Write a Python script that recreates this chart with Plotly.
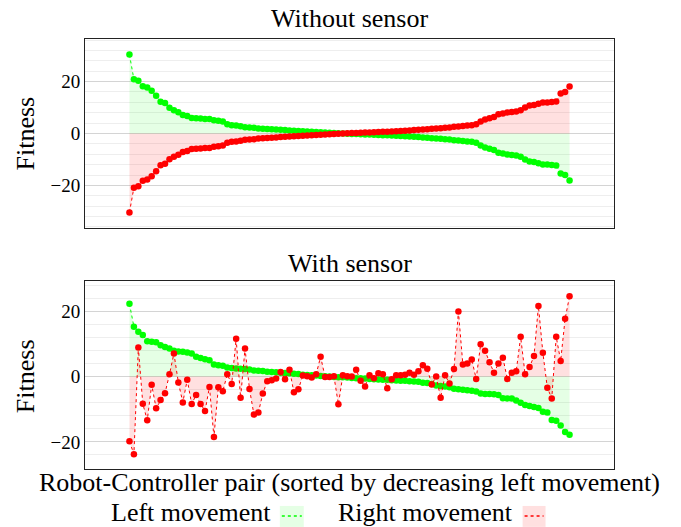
import plotly.graph_objects as go

# ---------------- data ----------------
pair_index = list(range(100))

without_left = [30.4, 20.9, 20.3, 18.2, 17.7, 16.5, 14.5, 12.2, 11.7, 9.9,
                9.0, 8.2, 7.1, 6.7, 6.0, 5.9, 5.8, 5.6, 5.6, 5.1,
                4.9, 4.6, 3.6, 3.2, 3.1, 2.8, 2.4, 2.3, 2.2, 1.9,
                1.8, 1.7, 1.6, 1.5, 1.4, 1.3, 1.2, 1.1, 1.0, 0.9,
                0.8, 0.7, 0.6, 0.5, 0.4, 0.3, 0.2, 0.1, 0.0, -0.1,
                -0.2, -0.2, -0.3, -0.4, -0.4, -0.5, -0.6, -0.7, -0.7, -0.8,
                -0.9, -1.0, -1.1, -1.2, -1.3, -1.4, -1.5, -1.6, -1.8, -1.9,
                -2.0, -2.2, -2.3, -2.6, -2.7, -2.9, -3.1, -3.2, -3.6, -4.6,
                -5.4, -5.9, -6.4, -7.4, -7.7, -8.1, -8.3, -8.5, -9.0, -10.0,
                -10.8, -11.0, -11.5, -11.9, -11.9, -12.1, -12.3, -15.4, -16.0, -18.1]

without_right = [-30.4, -20.9, -20.3, -18.2, -17.7, -16.5, -14.5, -12.2, -11.7, -9.9,
                 -9.0, -8.2, -7.1, -6.7, -6.0, -5.9, -5.8, -5.6, -5.6, -5.1,
                 -4.9, -4.6, -3.6, -3.2, -3.1, -2.8, -2.4, -2.3, -2.2, -1.9,
                 -1.8, -1.7, -1.6, -1.5, -1.4, -1.3, -1.2, -1.1, -1.0, -0.9,
                 -0.8, -0.7, -0.6, -0.5, -0.4, -0.3, -0.2, -0.1, 0.0, 0.1,
                 0.2, 0.2, 0.3, 0.4, 0.4, 0.5, 0.6, 0.7, 0.7, 0.8,
                 0.9, 1.0, 1.1, 1.2, 1.3, 1.4, 1.5, 1.6, 1.8, 1.9,
                 2.0, 2.2, 2.3, 2.6, 2.7, 2.9, 3.1, 3.2, 3.6, 4.6,
                 5.4, 5.9, 6.4, 7.4, 7.7, 8.1, 8.3, 8.5, 9.0, 10.0,
                 10.8, 11.0, 11.5, 11.9, 11.9, 12.1, 12.3, 15.4, 16.0, 18.1]

with_left = [22.3, 15.3, 13.7, 12.7, 10.8, 10.7, 10.5, 9.6, 9.1, 8.6,
             7.9, 7.7, 7.6, 7.4, 7.1, 6.1, 5.7, 5.3, 5.0, 3.7,
             3.5, 3.3, 2.8, 2.6, 2.5, 2.4, 2.3, 2.2, 1.9, 1.8,
             1.7, 1.5, 1.4, 1.3, 1.2, 1.1, 1.0, 0.9, 0.8, 0.6,
             0.5, 0.4, 0.3, 0.2, 0.1, 0.0, -0.1, -0.2, -0.2, -0.3,
             -0.4, -0.5, -0.5, -0.6, -0.7, -0.8, -0.9, -1.0, -1.0, -1.1,
             -1.2, -1.3, -1.3, -1.4, -1.5, -1.6, -1.9, -2.0, -2.3, -2.7,
             -2.9, -3.0, -3.3, -3.7, -3.9, -4.0, -4.2, -4.3, -4.6, -5.2,
             -5.3, -5.3, -5.4, -5.6, -6.6, -6.7, -6.7, -7.3, -8.0, -8.7,
             -9.0, -9.3, -9.6, -10.8, -11.0, -13.3, -13.5, -15.0, -17.0, -17.8]

with_right = [-19.8, -23.8, 8.9, -8.3, -13.4, -2.5, -9.7, -7.2, -5.1, 0.7,
              7.1, -1.8, -7.9, -1.0, -8.4, -5.6, -8.4, -10.5, -3.2, -18.5,
              -3.3, -4.5, 0.7, -2.3, 11.6, -6.5, 8.6, -3.8, -11.6, -11.0,
              -5.2, -1.4, -1.1, -0.6, 1.4, -0.8, 2.1, -4.8, -3.9, 0.3,
              0.1, -0.3, 0.7, 6.1, -0.1, -0.1, 0.1, -8.5, 0.4, 0.1,
              0.0, 2.1, -1.3, -3.0, 0.4, -0.5, 1.0, 0.7, -3.6, -0.8,
              0.4, 0.4, 0.6, 1.2, 0.6, 1.6, 3.5, 2.4, -2.4, 0.0,
              -6.5, 0.4, -2.1, 2.3, 19.9, 3.7, 4.0, 5.2, -0.7, 9.9,
              7.9, 4.4, 1.2, 4.0, 5.8, -0.7, 1.2, 1.6, 12.2, 0.7,
              2.9, 6.3, 21.6, 7.3, -3.4, -6.7, 12.2, 4.8, 17.7, 24.6]

y_ticks = [-20, 0, 20]
y_tick_text = ["\u221220", "0", "20"]
panel_titles = ["Without sensor", "With sensor"]
series_names = ["Left movement", "Right movement"]
x_title = "Robot-Controller pair (sorted by decreasing left movement)"
y_title = "Fitness"

# ---------------- styles ----------------
GREEN = "#00ff00"
RED = "#ff0000"
GREEN_FILL = "rgba(0,255,0,0.10)"
RED_FILL = "rgba(255,0,0,0.12)"
FONT = "Liberation Serif"
BIG = 26

fig = go.Figure()


def add_series(y, color, fill, xa, ya, name):
    fig.add_trace(go.Scatter(
        x=pair_index, y=y, mode="lines+markers", name=name,
        line=dict(color=color, width=1, dash="dot"),
        marker=dict(color=color, size=6.5),
        fill="tozeroy", fillcolor=fill,
        xaxis=xa, yaxis=ya, showlegend=False))


add_series(without_left, GREEN, GREEN_FILL, "x", "y", series_names[0])
add_series(without_right, RED, RED_FILL, "x", "y", series_names[1])
add_series(with_left, GREEN, GREEN_FILL, "x2", "y2", series_names[0])
add_series(with_right, RED, RED_FILL, "x2", "y2", series_names[1])

# the body margin is removed (post_script), so the figure fills the page
W, H = 681, 527
ML, MR, MT, MB = 85, 66.5, 38.5, 58
PW = W - ML - MR
PH = H - MT - MB


def px_x(px):  # page pixel -> paper
    return (px - ML) / PW


def px_y(py):  # page pixel -> paper
    return (H - MB - py) / PH


xcommon = dict(range=[-10, 109], showticklabels=False, ticks="", showgrid=False,
               zeroline=False, showline=True, mirror=True, linecolor="#222",
               linewidth=1, automargin=False)
ycommon = dict(tickvals=y_ticks, ticktext=y_tick_text, ticks="", showgrid=True,
               gridcolor="#d4d4d4", gridwidth=1, zeroline=False, showline=True,
               mirror=True, linecolor="#222", linewidth=1, automargin=False,
               tickfont=dict(family=FONT, size=19, color="black"),
               minor=dict(dtick=4, tick0=0, showgrid=True, gridcolor="#eeeeee",
                          gridwidth=1, ticks=""))

fig.update_layout(
    width=W, height=H,
    margin=dict(l=ML, r=MR, t=MT, b=MB, autoexpand=False),
    paper_bgcolor="white", plot_bgcolor="white",
    font=dict(family=FONT, color="black"),
    showlegend=False,
    hovermode=False,
    xaxis=dict(domain=[0, 1], anchor="y", **xcommon),
    yaxis=dict(domain=[px_y(227.7), 1], anchor="x", range=[-36.4, 36.4], **ycommon),
    xaxis2=dict(domain=[0, 1], anchor="y2", **xcommon),
    yaxis2=dict(domain=[0, px_y(280.7)], anchor="x2", range=[-28.3, 29.3], **ycommon),
)

ann = []


def add_text(text, x, y, xanchor="center", angle=0):
    ann.append(dict(text=text, x=x, y=y, xref="paper", yref="paper",
                    xanchor=xanchor, yanchor="middle", showarrow=False,
                    textangle=angle, font=dict(family=FONT, size=BIG)))


add_text(panel_titles[0], 0.5, px_y(18))
add_text(panel_titles[1], 0.5, px_y(263))
add_text(x_title, 0.5, px_y(483))
for cy in (133, 376):
    add_text(y_title, px_x(25), px_y(cy), angle=-90)
# legend (text followed by its symbol, as in the reference)
add_text(series_names[0], px_x(273), px_y(513), xanchor="right")
add_text(series_names[1], px_x(515), px_y(513), xanchor="right")
fig.update_layout(annotations=ann)

shapes = []
for (bx0, bx1, col, fillc) in [(280, 304, GREEN, GREEN_FILL), (523, 546, RED, RED_FILL)]:
    shapes.append(dict(type="rect", xref="paper", yref="paper",
                       x0=px_x(bx0), x1=px_x(bx1), y0=px_y(527), y1=px_y(506),
                       fillcolor=fillc, line=dict(width=0)))
    shapes.append(dict(type="line", xref="paper", yref="paper",
                       x0=px_x(bx0 + 2), x1=px_x(bx1 - 2), y0=px_y(516), y1=px_y(516),
                       line=dict(color=col, width=1.5, dash="dot")))
fig.update_layout(shapes=shapes)

fig.write_html("out.html",
               config={"displayModeBar": False},
               post_script="document.body.style.margin='0px';document.body.style.overflow='hidden';")
